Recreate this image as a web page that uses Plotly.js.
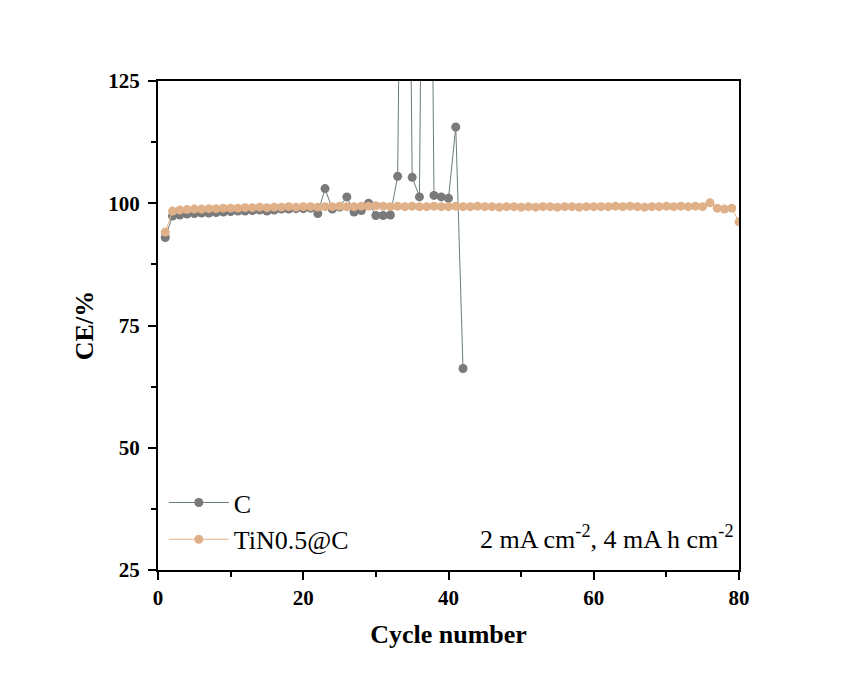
<!DOCTYPE html>
<html>
<head>
<meta charset="utf-8">
<script src="https://cdn.plot.ly/plotly-3.0.1.min.js"></script>
<style>html,body{margin:0;padding:0;background:#fff;}#chart{width:844px;height:676px;}</style>
</head>
<body>
<div id="chart"></div>
<script>
// Series C (cycles 1..42)
const cycleC = [1,2,3,4,5,6,7,8,9,10,11,12,13,14,15,16,17,18,19,20,21,22,23,24,25,26,27,28,29,30,31,32,33,34,35,36,37,38,39,40,41,42];
const ceC = [93.0,97.4,97.6,97.8,97.9,98.0,98.0,98.1,98.2,98.3,98.4,98.4,98.5,98.6,98.4,98.6,98.8,98.8,98.9,98.9,99.0,97.9,103.0,98.8,99.2,101.3,98.2,98.5,100.0,97.5,97.5,97.6,105.5,250,105.3,101.3,270,101.6,101.3,101.0,115.6,66.2];

// Series TiN0.5@C (cycles 1..80)
const cycleT = [1,2,3,4,5,6,7,8,9,10,11,12,13,14,15,16,17,18,19,20,
                21,22,23,24,25,26,27,28,29,30,31,32,33,34,35,36,37,38,39,40,
                41,42,43,44,45,46,47,48,49,50,51,52,53,54,55,56,57,58,59,60,
                61,62,63,64,65,66,67,68,69,70,71,72,73,74,75,76,77,78,79,80];
const ceT = [94.1,98.4,98.6,98.7,98.8,98.8,98.9,98.9,99.0,99.0,
             99.0,99.1,99.1,99.2,99.1,99.2,99.2,99.3,99.2,99.3,
             99.3,99.2,99.3,99.3,99.4,99.3,99.3,99.4,99.4,99.5,
             99.4,99.3,99.4,99.3,99.4,99.3,99.3,99.4,99.3,99.3,
             99.4,99.3,99.3,99.4,99.3,99.3,99.2,99.3,99.3,99.2,
             99.3,99.2,99.3,99.3,99.2,99.3,99.3,99.2,99.3,99.3,
             99.3,99.3,99.4,99.3,99.4,99.3,99.2,99.3,99.3,99.4,
             99.3,99.4,99.3,99.4,99.3,100.1,99.0,98.8,99.0,96.2];

const seriesNames = ['C', 'TiN0.5@C'];
const xTicks = [0,20,40,60,80];
const yTicks = [25,50,75,100,125];

const FONT = 'Liberation Serif, Times New Roman, serif';

const traces = [
  {x: cycleC, y: ceC, name: seriesNames[0], type: 'scatter', mode: 'lines+markers',
   line: {color: '#6b7b7b', width: 1},
   marker: {color: '#7a7a7a', size: 9}},
  {x: cycleT, y: ceT, name: seriesNames[1], type: 'scatter', mode: 'lines+markers',
   line: {color: '#e6b48e', width: 1},
   marker: {color: '#e0b088', size: 9}}
];

const axisCommon = {
  showline: true, linecolor: 'black', linewidth: 2, mirror: true,
  ticks: 'outside', ticklen: 8, tickwidth: 2, tickcolor: 'black',
  showgrid: false, zeroline: false,
  tickfont: {family: FONT, size: 21, color: 'black', weight: 'bold'}
};

const layout = {
  width: 844, height: 676,
  paper_bgcolor: 'white', plot_bgcolor: 'white',
  margin: {l: 158, r: 105, t: 81, b: 106},
  showlegend: true,
  legend: {x: 0.01, y: 0.1, xanchor: 'left', yanchor: 'middle', bgcolor: 'rgba(0,0,0,0)',
           font: {family: FONT, size: 26, color: 'black'}, itemwidth: 60, tracegroupgap: 0},
  xaxis: Object.assign({}, axisCommon, {
    range: [0, 80], tickvals: xTicks, ticktext: xTicks.map(String),
    minor: {ticks: 'outside', ticklen: 5, tickwidth: 2, tickcolor: 'black', dtick: 10, tick0: 0},
    title: {text: 'Cycle number', font: {family: FONT, size: 26, color: 'black', weight: 'bold'}, standoff: 16}
  }),
  yaxis: Object.assign({}, axisCommon, {
    range: [25, 125], tickvals: yTicks, ticktext: yTicks.map(String),
    ticklabelstandoff: 4,
    minor: {ticks: 'outside', ticklen: 5, tickwidth: 2, tickcolor: 'black', dtick: 12.5, tick0: 25},
    title: {text: 'CE/%', font: {family: FONT, size: 26, color: 'black', weight: 'bold'}, standoff: 7}
  }),
  annotations: [{
    xref: 'paper', yref: 'paper', x: 0.995, y: 0.067, xanchor: 'right', yanchor: 'middle',
    text: '2 mA cm<sup>-2</sup>, 4 mA h cm<sup>-2</sup>', showarrow: false,
    font: {family: FONT, size: 26, color: 'black'}
  }]
};

Plotly.newPlot('chart', traces, layout, {displayModeBar: false, staticPlot: true});
</script>
</body>
</html>
